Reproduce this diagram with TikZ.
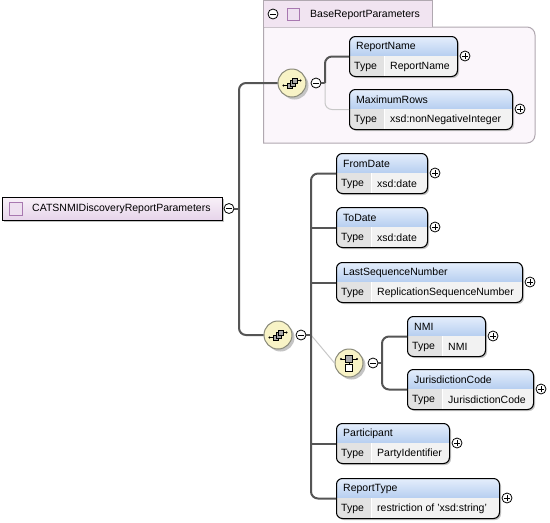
\documentclass[tikz,border=0pt]{standalone}
\usepackage{fontspec}
\setmainfont{Liberation Sans}
\definecolor{connc}{HTML}{555555}
\definecolor{optc}{HTML}{C8C8C8}
\definecolor{hdtop}{HTML}{E6EFFC}
\definecolor{hdbot}{HTML}{B6CEF0}
\definecolor{typebg}{HTML}{F2F2F2}
\definecolor{typecell}{HTML}{E2E2E2}
\definecolor{shadowc}{HTML}{C4C4C4}
\definecolor{seqf}{HTML}{F8F3C6}
\definecolor{seqb}{HTML}{8A8A7A}
\definecolor{roottop}{HTML}{F8F0F8}
\definecolor{rootbot}{HTML}{E6D4EA}
\definecolor{sqf}{HTML}{EEE0F0}
\definecolor{sqb}{HTML}{A878B0}
\definecolor{tabf}{HTML}{F1E4F1}
\definecolor{bodyf}{HTML}{FBF6FB}
\definecolor{grpb}{HTML}{B0A8B0}
\definecolor{icong}{HTML}{A8A8A8}
\tikzset{
  x=1pt, y=-1pt,
  every node/.style={font=\fontsize{10.5}{12}\selectfont, inner sep=0pt, text=black},
  conn/.style={draw=connc, line width=2pt},
  optconn/.style={draw=optc, line width=1pt},
  pm/.style={circle, draw=black, fill=white, line width=0.8pt, minimum size=10pt},
  seqc/.style={circle, draw=seqb, fill=seqf, line width=1pt, minimum size=28pt},
  seqicon/.pic={
    \draw[black, line width=0.6pt] (-8.5,2.5) -- (-4,2.5) (-1,0) -- (0,0) (4,-2.5) -- (8.5,-2.5);
    \fill[black] (-8.5,2.5) circle (1.1) (8.5,-2.5) circle (1.1);
    \draw[black, fill=icong, line width=0.5pt] (-4.5,0) rectangle (0.5,5.5);
    \draw[black, fill=icong, line width=0.5pt] (-2,-2.5) rectangle (3,3);
    \draw[black, fill=icong, line width=0.5pt] (0.5,-5) rectangle (5.5,0.5);
  },
  choiceicon/.pic={
    \draw[black, line width=0.6pt] (-8,-4) -- (8,-4) (0,-4) -- (0,5);
    \fill[black] (-8,-4) circle (1.1) (8,-4) circle (1.1);
    \draw[black, fill=icong, line width=0.5pt] (-3.5,-7.5) rectangle (3.5,-0.5);
    \draw[black, fill=white, line width=0.5pt] (-3.5,1.5) rectangle (3.5,8.5);
  }
}
\newcommand{\pmplus}[1]{\draw[line width=0.7pt] (#1.center) +(-3,0) -- +(3,0) (#1.center) +(0,-3) -- +(0,3);}
\newcommand{\pmminus}[1]{\draw[line width=0.7pt] (#1.center) +(-3,0) -- +(3,0);}
\newcommand{\elem}[6]{%
  \fill[shadowc, rounded corners=6pt] (#2+2,#3+2) rectangle (#2+#4+2,#3+42);
  \begin{scope}
    \clip[rounded corners=6pt] (#2,#3) rectangle (#2+#4,#3+40);
    \shade[top color=hdtop, bottom color=hdbot] (#2,#3) rectangle (#2+#4,#3+20);
    \fill[typebg] (#2,#3+20) rectangle (#2+#4,#3+40);
    \fill[typecell] (#2,#3+20) rectangle (#2+35,#3+40);
    \draw[white, line width=1pt] (#2+35.5,#3+20) -- (#2+35.5,#3+40);
  \end{scope}
  \node[draw=black, line width=1pt, rounded corners=6pt, minimum width=#4pt, minimum height=40pt, anchor=north west] (#1) at (#2,#3) {};
  \node[anchor=west] (#1t) at (#2+7,#3+10.5) {#5};
  \node[anchor=west] (#1k) at (#2+5,#3+30.5) {Type};
  \node[anchor=west] (#1v) at (#2+41,#3+30.5) {#6};
  \node[pm] (#1p) at (#2+#4+8,#3+20) {};
  \pmplus{#1p}
}
\begin{document}
\begin{tikzpicture}
\useasboundingbox (0,0) rectangle (550,523);
\fill[white] (0,0) rectangle (550,523);

% group BaseReportParameters
\draw[grpb, fill=bodyf, line width=1pt] (263.5,27) [rounded corners=8pt]-- (535,27) -- (535,143) [sharp corners]-- (263.5,143) -- cycle;
\fill[tabf] (263.5,0.5) rectangle (432,27);
\draw[grpb, line width=1pt] (263.5,27) -- (263.5,0.5) -- (432,0.5) -- (432,27);
\node[pm] (gm) at (273,14) {};
\pmminus{gm}
\draw[sqb, fill=sqf, line width=0.8pt] (287,8) rectangle (299,20);
\node[anchor=west] (gt) at (310,14.5) {BaseReportParameters};

% root
\fill[shadowc] (4,199) rectangle (224,222);
\node[draw=black, line width=1pt, top color=roottop, bottom color=rootbot, minimum width=220pt, minimum height=23pt, anchor=north west] (root) at (2,197) {};
\draw[sqb, fill=sqf, line width=0.8pt] (9,202) rectangle (22,215);
\node[anchor=west] (roott) at (32,208.5) {CATSNMIDiscoveryReportParameters};
\node[pm] (rootm) at (229,208.5) {};
\pmminus{rootm}

% elements
\elem{ReportName}{349}{36}{108}{ReportName}{ReportName}
\elem{MaximumRows}{349}{89}{163}{MaximumRows}{xsd:nonNegativeInteger}
\elem{FromDate}{336}{153}{91}{FromDate}{xsd:date}
\elem{ToDate}{336}{207}{91}{ToDate}{xsd:date}
\elem{LastSeq}{336}{262}{186}{LastSequenceNumber}{ReplicationSequenceNumber}
\elem{NMI}{407}{316}{78}{NMI}{NMI}
\elem{JC}{407}{369}{126}{JurisdictionCode}{JurisdictionCode}
\elem{Participant}{336}{423}{113}{Participant}{PartyIdentifier}
\elem{ReportType}{336}{478}{163}{ReportType}{restriction of 'xsd:string'}

% compositors
\fill[shadowc] (294.5,85.5) circle (14);
\node[seqc] (s1) at (292,83) {};
\pic at (s1) {seqicon};
\node[pm] (s1m) at (316,83) {};
\pmminus{s1m}

\fill[shadowc] (280.5,337.5) circle (14);
\node[seqc] (s2) at (278,335) {};
\pic at (s2) {seqicon};
\node[pm] (s2m) at (301,335) {};
\pmminus{s2m}

\fill[shadowc] (351.5,365.5) circle (14);
\node[seqc] (ch) at (349,363) {};
\pic at (ch) {choiceicon};
\node[pm] (chm) at (373,363) {};
\pmminus{chm}

% junctions
\coordinate (J1) at (239,208.5);
\coordinate (J2) at (311,335);
\coordinate (J3) at (325,83);
\coordinate (J4) at (382,363);

% connectors
\draw[conn] (rootm.east) -- (J1);
\draw[conn, rounded corners=7pt] (s1.west) -| (J1) |- (s2.west);
\draw[conn] (s1m.east) -- (J3);
\draw[optconn, rounded corners=7pt] (J3) |- (MaximumRows.west);
\draw[conn, rounded corners=7pt] (J3) |- (ReportName.west);

\draw[conn] (s2m.east) -- (J2);
\draw[optconn] (J2) -- (ch.west);
\draw[conn, rounded corners=7pt] (FromDate.west) -| (J2) |- (ReportType.west);
\draw[conn] (ToDate.west) -- (ToDate.west -| J2);
\draw[conn] (LastSeq.west) -- (LastSeq.west -| J2);
\draw[conn] (Participant.west) -- (Participant.west -| J2);

\draw[conn] (chm.east) -- (J4);
\draw[conn, rounded corners=7pt] (NMI.west) -| (J4) |- (JC.west);
\end{tikzpicture}
\end{document}
